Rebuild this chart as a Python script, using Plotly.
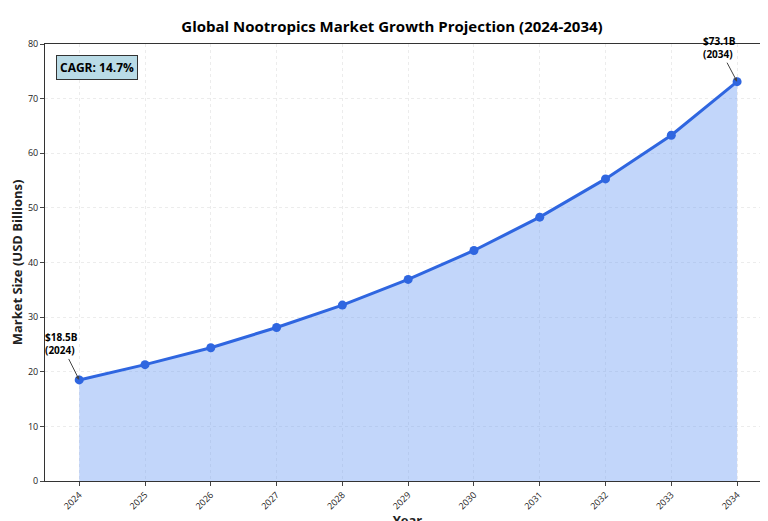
import plotly.graph_objects as go

years = [2024, 2025, 2026, 2027, 2028, 2029, 2030, 2031, 2032, 2033, 2034]
market = [18.5, 21.3, 24.4, 28.1, 32.2, 36.9, 42.2, 48.3, 55.3, 63.3, 73.1]
tick_labels = [str(y) for y in years]

fig = go.Figure()
fig.add_trace(go.Scatter(
    x=years, y=market, mode="lines+markers", fill="tozeroy",
    fillcolor="rgba(120,165,245,0.45)",
    line=dict(color="#2f66e0", width=3), marker=dict(size=9, color="#2f66e0"),
    showlegend=False))

fig.add_annotation(x=years[0], y=market[0], text="<b>$18.5B<br>(2024)</b>", showarrow=True,
                   arrowhead=2, arrowsize=0.8, arrowwidth=1, ax=-18, ay=-36, align="left",
                   font=dict(size=10, color="black"))
fig.add_annotation(x=years[-1], y=market[-1], text="<b>$73.1B<br>(2034)</b>", showarrow=True,
                   arrowhead=2, arrowsize=0.8, arrowwidth=1, ax=-18, ay=-34, align="left",
                   font=dict(size=10, color="black"))
fig.add_annotation(xref="paper", yref="paper", x=0.015, y=0.975, xanchor="left", yanchor="top",
                   text="<b>CAGR: 14.7%</b>", showarrow=False, bgcolor="#b9dbe6",
                   bordercolor="#333", borderwidth=1, borderpad=3,
                   font=dict(size=12, color="black"))

fig.update_layout(
    width=768, height=521, template="none",
    font=dict(family="Open Sans", size=11, color="#222"),
    title=dict(text="<b>Global Nootropics Market Growth Projection (2024-2034)</b>",
               x=0.5, xanchor="center", y=0.975, font=dict(size=15, color="black")),
    margin=dict(l=37, r=6, t=36, b=48),
    plot_bgcolor="white", paper_bgcolor="white",
    xaxis=dict(title=dict(text="<b>Year</b>", standoff=2), tickmode="array", tickvals=years,
               ticktext=tick_labels, tickangle=-45, range=[2023.48, 2034.5], automargin=False,
               showgrid=True, gridcolor="#ececec", griddash="dot", showline=True,
               linecolor="#333", mirror=True, ticks="outside", ticklen=4, zeroline=False,
               tickfont=dict(size=9)),
    yaxis=dict(title=dict(text="<b>Market Size (USD Billions)</b>", standoff=4), range=[0, 80], dtick=10,
               automargin=False,
               showgrid=True, gridcolor="#ececec", griddash="dot", showline=True,
               linecolor="#333", mirror=True, ticks="outside", ticklen=4, zeroline=False,
               tickfont=dict(size=9)),
)
fig.write_html("out.html")
